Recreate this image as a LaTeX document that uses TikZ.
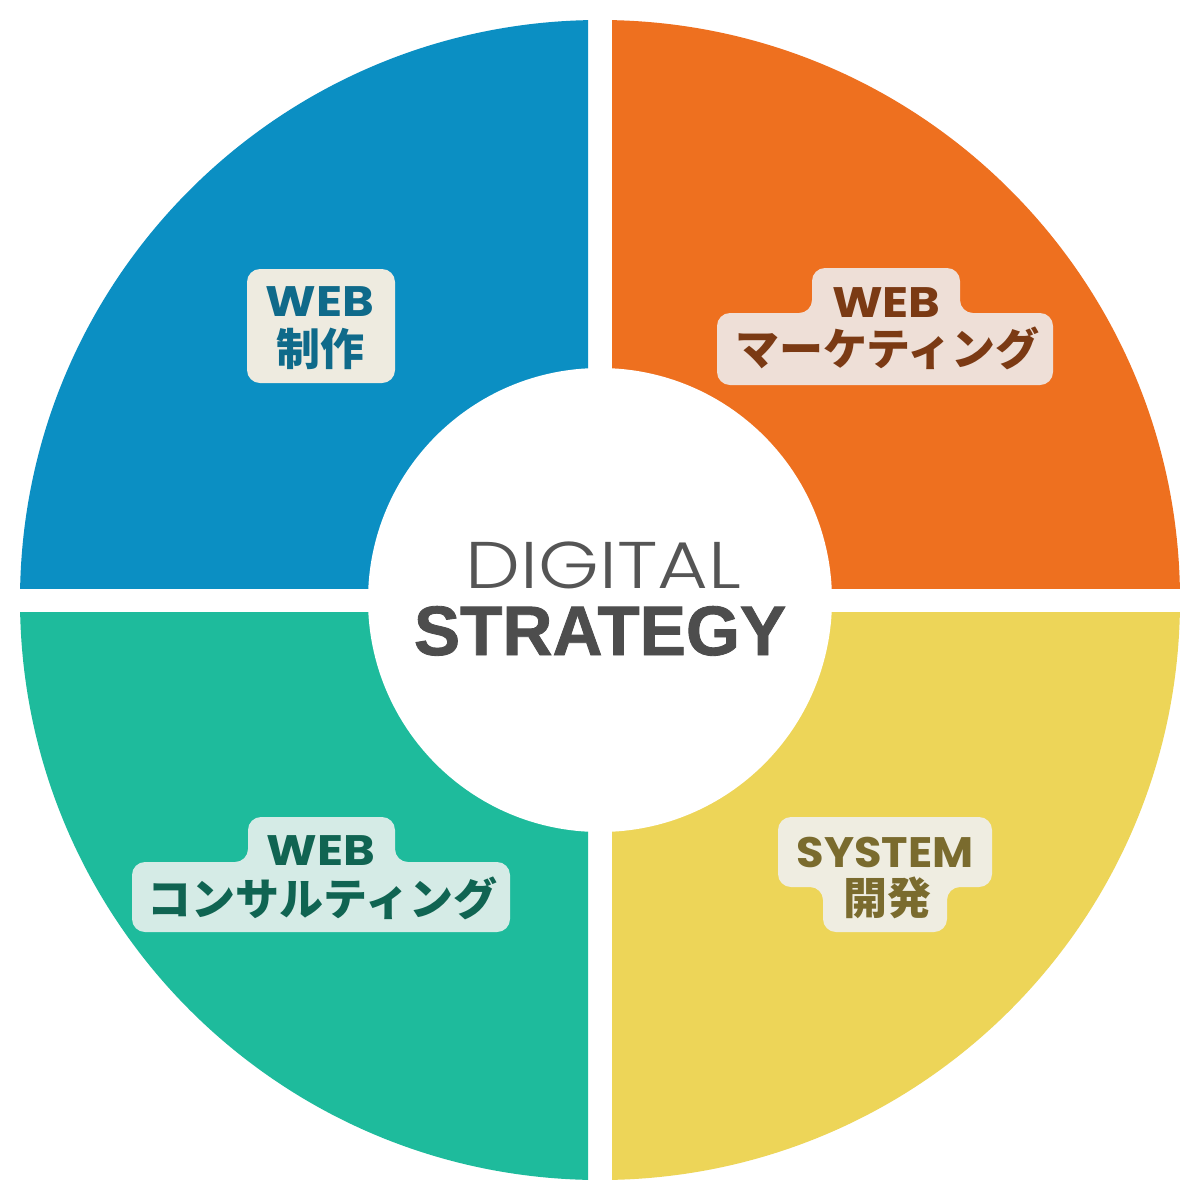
\documentclass[tikz,border=0pt]{standalone}
\usepackage{fontspec}
\newfontfamily\jpfont{Noto Sans CJK JP}
\newfontfamily\webfont{Poppins}
\newfontfamily\thinfont{Poppins Light}
\newfontfamily\heavyfont{Liberation Sans}[BoldFeatures={FakeBold=1.2}]
\definecolor{qblue}{HTML}{0B8FC3}
\definecolor{qorange}{HTML}{EE701F}
\definecolor{qyellow}{HTML}{EDD558}
\definecolor{qteal}{HTML}{1EBB9C}
\definecolor{bgblue}{HTML}{EEEBE0}
\definecolor{txblue}{HTML}{0F6A8A}
\definecolor{bgorange}{HTML}{EEDFD7}
\definecolor{txorange}{HTML}{7B3A14}
\definecolor{bgteal}{HTML}{D5EBE6}
\definecolor{txteal}{HTML}{106452}
\definecolor{bgyellow}{HTML}{EFEDE1}
\definecolor{txyellow}{HTML}{7A6B2E}
\definecolor{ctext}{HTML}{555555}
\definecolor{ctextb}{HTML}{4D4D4D}
\begin{document}
\begin{tikzpicture}[x=0.5pt,y=-0.5pt,
  labelbg/.style={rounded corners=6.5pt},
  webtxt/.style={inner sep=0pt,anchor=base,text height=14pt,text depth=0pt,font=\webfont\bfseries\fontsize{21.3pt}{22pt}\selectfont,xscale=1.13},
  jptxt/.style={inner sep=0pt,anchor=base,text height=18pt,text depth=0pt,font=\jpfont\bfseries\fontsize{22pt}{24pt}\selectfont}]
\useasboundingbox (0,0) rectangle (1200,1200);
\fill[white] (0,0) rectangle (1200,1200);
% quadrants
\begin{scope}\clip (0,0) rectangle (588,588);
  \fill[qblue] (600,600) circle (290pt);\end{scope}
\begin{scope}\clip (612,0) rectangle (1200,588);
  \fill[qorange] (600,600) circle (290pt);\end{scope}
\begin{scope}\clip (0,612) rectangle (588,1200);
  \fill[qteal] (600,600) circle (290pt);\end{scope}
\begin{scope}\clip (612,612) rectangle (1200,1200);
  \fill[qyellow] (600,600) circle (290pt);\end{scope}
\fill[white] (600,600) circle (116pt);
% centre text
\node[inner sep=0pt,anchor=base,text height=23pt,text depth=0pt,text=ctext,font=\thinfont\fontsize{33pt}{34pt}\selectfont,xscale=1.18] (digital) at (603.5,588) {DIGITAL};
\node[inner sep=0pt,anchor=base,text height=25pt,text depth=0pt,text=ctextb,font=\heavyfont\bfseries\fontsize{35pt}{36pt}\selectfont,xscale=0.99] (strategy) at (600,655) {STRATEGY};
% label 1
\fill[bgblue,labelbg] (247,269) rectangle (395,383);
\node[webtxt,text=txblue] (l1a) at (320,316) {WEB};
\node[jptxt,text=txblue] (l1b) at (320,365) {制作};
% label 2
\fill[bgorange,labelbg] (812,268) -- (960,268) -- (960,313) -- (1053,313) -- (1053,385) -- (717,385) -- (717,313) -- (812,313) -- cycle;
\node[webtxt,text=txorange] (l2a) at (886.5,317) {WEB};
\node[jptxt,text=txorange] (l2b) at (887.5,365) {マーケティング};
% label 3
\fill[bgteal,labelbg] (248,817) -- (395,817) -- (395,862) -- (510,862) -- (510,932) -- (132,932) -- (132,862) -- (248,862) -- cycle;
\node[webtxt,text=txteal] (l3a) at (321,865) {WEB};
\node[jptxt,text=txteal] (l3b) at (322.5,915) {コンサルティング};
% label 4
\fill[bgyellow,labelbg] (778,817) -- (992,817) -- (992,887) -- (947,887) -- (947,932) -- (823,932) -- (823,887) -- (778,887) -- cycle;
\node[webtxt,text=txyellow,xscale=0.93] (l4a) at (885,867) {SYSTEM};
\node[jptxt,text=txyellow] (l4b) at (887.5,914) {開発};
\end{tikzpicture}
\end{document}
